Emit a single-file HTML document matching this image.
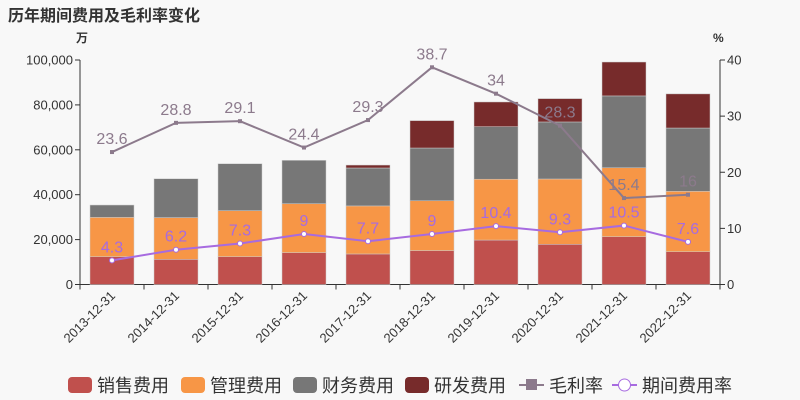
<!DOCTYPE html>
<html><head><meta charset="utf-8"><style>
body{margin:0;background:#f8f8f8;}
svg{display:block;font-family:"Liberation Sans","Noto Sans CJK SC",sans-serif;}
</style></head><body>
<svg id="c" width="800" height="400">
<rect width="800" height="400" fill="#f8f8f8"/>
<text x="8" y="21" font-size="16" font-weight="bold" fill="#333">历年期间费用及毛利率变化</text>
<text x="76" y="42" font-size="12" font-weight="bold" fill="#333">万</text>
<text x="713" y="42" font-size="12" font-weight="bold" fill="#333">%</text>
</svg>
<script>
const categories=["2013-12-31","2014-12-31","2015-12-31","2016-12-31","2017-12-31","2018-12-31","2019-12-31","2020-12-31","2021-12-31","2022-12-31"];
const sales=[12400,11200,12400,14200,13600,15100,19800,17900,21300,14600];
const mgmt=[17500,18600,20500,21800,21400,22200,27100,29100,30700,26900];
const fin=[5500,17300,20900,19300,16900,23500,23400,25400,32000,28200];
const rnd=[0,0,0,0,1300,12200,11000,10400,15100,15200];
const grossMargin=[23.6,28.8,29.1,24.4,29.3,38.7,34,28.3,15.4,16];
const expenseRate=[4.3,6.2,7.3,9,7.7,9,10.4,9.3,10.5,7.6];
const leftTicks=[0,20000,40000,60000,80000,100000];
const rightTicks=[0,10,20,30,40];
const seriesNames=["销售费用","管理费用","财务费用","研发费用"];
const colors=["#c0504d","#f79646","#777777","#772b2b"];

const svg=document.getElementById('c'),NS="http://www.w3.org/2000/svg";
const X0=80,X1=720,Y0=284.5,Y1=60;
const band=(X1-X0)/categories.length;
const xc=i=>X0+band*(i+0.5);
const yL=v=>Y0-(v/100000)*(Y0-Y1);
const yR=v=>Y0-(v/40)*(Y0-Y1);
function mk(t,a,txt){const e=document.createElementNS(NS,t);for(const k in a)e.setAttribute(k,a[k]);if(txt!=null)e.textContent=txt;svg.appendChild(e);return e;}
leftTicks.forEach(v=>{
 const t=mk('text',{x:73,y:yL(v)+4.5,'font-size':13,fill:'#333','text-anchor':'end'},v.toLocaleString('en-US'));
 
 
 mk('line',{x1:75,x2:80,y1:yL(v),y2:yL(v),stroke:'#333'});
});
rightTicks.forEach(v=>{
 const t=mk('text',{x:727,y:yR(v)+4.5,'font-size':13,fill:'#333'},v);
 
 
 mk('line',{x1:720,x2:725,y1:yR(v),y2:yR(v),stroke:'#333'});
});
mk('line',{x1:80,x2:80,y1:Y1,y2:Y0,stroke:'#333'});
mk('line',{x1:720,x2:720,y1:Y1,y2:Y0,stroke:'#333'});
mk('line',{x1:80,x2:720,y1:Y0,y2:Y0,stroke:'#333'});
for(let i=0;i<=categories.length;i++)mk('line',{x1:X0+band*i,x2:X0+band*i,y1:Y0,y2:Y0+5,stroke:'#333'});
const stacks=[sales,mgmt,fin,rnd];
categories.forEach((c,i)=>{
 let acc=0;
 stacks.forEach((s,k)=>{
  if(s[i]<=0)return;
  const top=yL(acc+s[i]),bot=yL(acc);
  const r=mk('rect',{x:xc(i)-22,y:top,width:44,height:bot-top,fill:colors[k],stroke:'#ccc','stroke-width':0.5});
  
  
  acc+=s[i];
 });
 const t=mk('text',{transform:`translate(${xc(i)+4},${Y0+12}) rotate(-45)`,'font-size':13,fill:'#333','text-anchor':'end'},c);
 
 
});
function line(data,col,sq,name){
 mk('polyline',{points:data.map((v,i)=>xc(i)+','+yR(v)).join(' '),fill:'none',stroke:col,'stroke-width':2});
 data.forEach((v,i)=>{
  let p;
  if(sq)p=mk('rect',{x:xc(i)-2,y:yR(v)-2,width:4,height:4,fill:col});
  else p=mk('circle',{cx:xc(i),cy:yR(v),r:2.5,fill:'#fff',stroke:col,'stroke-width':1});
  
  
  const t=mk('text',{x:xc(i),y:yR(v)-8,'font-size':16,fill:col,'text-anchor':'middle'},v);
  
  
 });
}
line(grossMargin,'#8c7a8c',true,'gross-margin');
line(expenseRate,'#a76be0',false,'expense-rate');
const legendX=[68,181,293,405,519,612];
seriesNames.forEach((n,k)=>{
 const lx=legendX[k];
 const r=mk('rect',{x:lx,y:377,width:24,height:16,rx:4,fill:colors[k]});
 
 
 const t=mk('text',{x:lx+29,y:392,'font-size':18,fill:'#333'},n);
 
 
});
[['毛利率','#8c7a8c',true],['期间费用率','#a76be0',false]].forEach(([n,col,sq],j)=>{
 const lx=legendX[4+j];
 mk('line',{x1:lx,x2:lx+25,y1:385,y2:385,stroke:col,'stroke-width':2});
 if(sq)mk('rect',{x:lx+7,y:379,width:11,height:11,fill:col});
 else mk('circle',{cx:lx+12.5,cy:385,r:6,fill:'#fff',stroke:col});
 const t=mk('text',{x:lx+30,y:392,'font-size':18,fill:'#333'},n);
 
 
});
</script>
</body></html>
